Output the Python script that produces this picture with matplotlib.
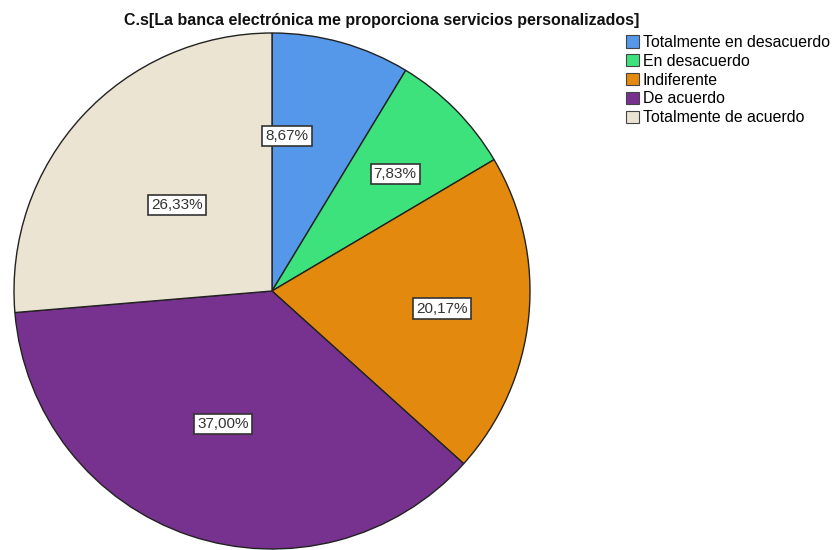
import matplotlib
matplotlib.use("Agg")
import matplotlib.pyplot as plt
from matplotlib.patches import Patch

title = "C.s[La banca electrónica me proporciona servicios personalizados]"
categories = ["Totalmente en desacuerdo", "En desacuerdo", "Indiferente",
              "De acuerdo", "Totalmente de acuerdo"]
percentages = [8.67, 7.83, 20.17, 37.00, 26.33]
colors = ["#5597E8", "#3EE27D", "#E38A0E", "#77328F", "#EBE4D3"]

# label placement (fraction of radius, x/y from centre)
label_xy = [(0.058, 0.60), (0.477, 0.453), (0.659, -0.068),
            (-0.190, -0.517), (-0.368, 0.333)]

plt.rcParams["font.family"] = ["Liberation Sans", "DejaVu Sans"]

fig = plt.figure(figsize=(8.4, 5.5), dpi=100)
W, H = 840, 550
cx, cy, r = 272, 291, 258
ax = fig.add_axes([(cx - r) / W, 1 - (cy + r) / H, 2 * r / W, 2 * r / H])

wedges, _ = ax.pie(percentages, colors=colors, startangle=90, counterclock=False,
                   wedgeprops=dict(edgecolor="#222222", linewidth=1.0),
                   radius=1.0)
ax.set_xlim(-1, 1)
ax.set_ylim(-1, 1)
ax.set_aspect("equal")
ax.axis("off")

for val, (x, y) in zip(percentages, label_xy):
    txt = f"{val:.2f}".replace(".", ",") + "%"
    ax.text(x, y, txt, ha="center", va="center", fontsize=11, color="#333333",
            bbox=dict(boxstyle="square,pad=0.2", facecolor="white",
                      edgecolor="#333333", linewidth=1.2))

fig.text(382 / W, 1 - 20 / H, title, ha="center", va="center",
         fontsize=11.5, fontweight="bold", color="#111111")

handles = [Patch(facecolor=c, edgecolor="#444444", linewidth=0.8) for c in colors]
fig.legend(handles, categories, loc="upper left",
           bbox_to_anchor=(626 / W, 1 - 35 / H), frameon=False,
           fontsize=11.4, handlelength=0.82, handleheight=0.82, handletextpad=0.25,
           labelspacing=0.24, borderpad=0, borderaxespad=0)

fig.savefig("out.png", dpi=100, facecolor="white")
